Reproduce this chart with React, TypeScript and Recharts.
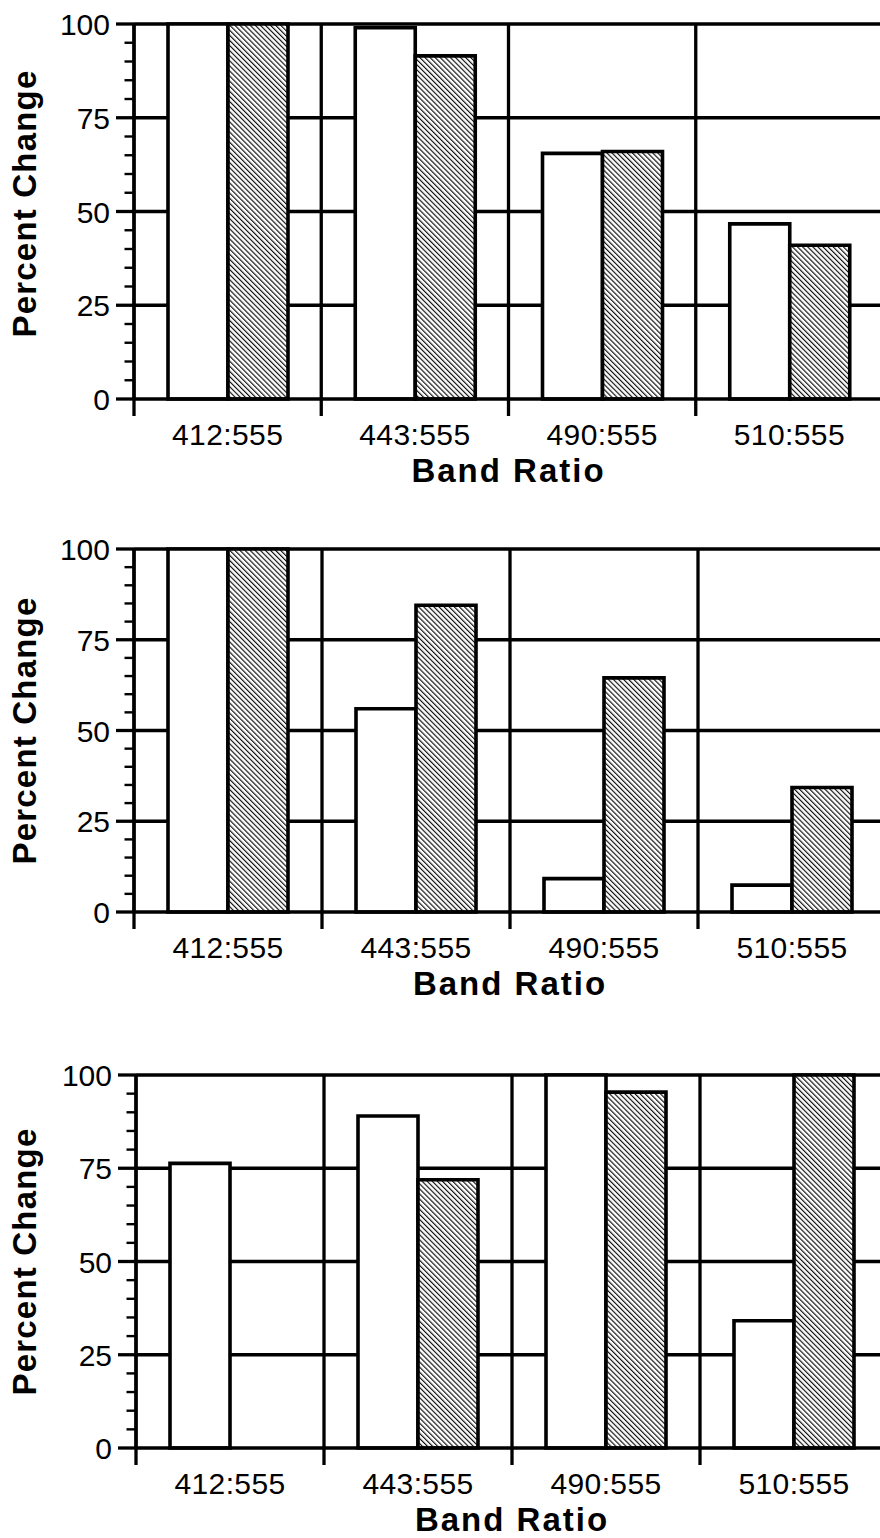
import React from 'react';
import { BarChart, Bar, XAxis, YAxis, CartesianGrid, Label } from 'recharts';

const categories = ['412:555', '443:555', '490:555', '510:555'];

const panel1Open = [100, 99, 65.5, 46.7];
const panel1Hatched = [100, 91.5, 66, 41];
const panel2Open = [100, 56, 9.2, 7.4];
const panel2Hatched = [100, 84.5, 64.5, 34.3];
const panel3Open = [76.3, 89, 100, 34.1];
const panel3Hatched = [0, 71.9, 95.4, 100];

const yTicks = [0, 5, 10, 15, 20, 25, 30, 35, 40, 45, 50, 55, 60, 65, 70, 75, 80, 85, 90, 95, 100];
const yGridTicks = [25, 50, 75, 100];

const FONT = '"Liberation Sans", Arial, Helvetica, sans-serif';

const XTick = (props: any) => {
  const { x, y, payload, index, visibleTicksCount } = props;
  const half = payload && payload.offset ? payload.offset : 0;
  return (
    <g>
      <line x1={x - half} x2={x - half} y1={y} y2={y + 17} stroke="#000" strokeWidth={3.3} />
      {index === visibleTicksCount - 1 && (
        <line x1={x + half} x2={x + half} y1={y} y2={y + 17} stroke="#000" strokeWidth={3.3} />
      )}
      <text x={x} y={y + 46} textAnchor="middle" fontSize={30} fontFamily={FONT} fill="#000" letterSpacing={0.4}>
        {payload.value}
      </text>
    </g>
  );
};

const YTick = (props: any) => {
  const { x, y, payload } = props;
  const v = payload.value;
  const major = v % 25 === 0;
  return (
    <g>
      <line x1={x - (major ? 18 : 9.5)} x2={x} y1={y} y2={y} stroke="#000" strokeWidth={major ? 3.3 : 2.4} />
      {major && (
        <text x={x - 24} y={y} dy={11} textAnchor="end" fontSize={30} fontFamily={FONT} fill="#000">
          {v}
        </text>
      )}
    </g>
  );
};

type PanelProps = {
  top: number;
  chartTop: number;
  axisWidth: number;
  rightMargin: number;
  xAxisHeight: number;
  open: number[];
  hatched: number[];
  yLabelShift: number;
};

const boundaryGenerator = (p: any) => {
  const o = p.offset;
  return categories.map((_, i) => o.left + (o.width * i) / categories.length).concat([o.left + o.width]);
};

const Panel = ({ top, chartTop, axisWidth, rightMargin, xAxisHeight, open, hatched, yLabelShift }: PanelProps) => {
  const data = categories.map((c, i) => ({ cat: c, open: open[i], hatched: hatched[i] }));
  return (
    <div style={{ position: 'absolute', left: 0, top }}>
      <BarChart
        width={890}
        height={500}
        data={data}
        margin={{ top: chartTop, right: rightMargin, bottom: 0, left: 0 }}
        barGap={0}
        barSize={60}
      >
        <CartesianGrid
          xAxisId="cat"
          yAxisId="val"
          horizontalValues={yGridTicks}
          verticalCoordinatesGenerator={boundaryGenerator}
          stroke="#000"
          strokeWidth={3.3}
          fill="none"
        />
        <XAxis
          xAxisId="cat"
          dataKey="cat"
          height={xAxisHeight}
          tickLine={false}
          tickSize={0}
          tickMargin={0}
          axisLine={{ stroke: '#000', strokeWidth: 3.6 }}
          tick={<XTick />}
          interval={0}
        >
          <Label
            content={(p: any) => {
              const vb = p.viewBox || {};
              return (
                <text
                  x={vb.x + vb.width / 2}
                  y={vb.y + 83}
                  textAnchor="middle"
                  fontSize={33}
                  fontWeight="bold"
                  fontFamily={FONT}
                  letterSpacing={2}
                  fill="#000"
                >
                  Band Ratio
                </text>
              );
            }}
          />
        </XAxis>
        <YAxis
          yAxisId="val"
          type="number"
          domain={[0, 100]}
          ticks={yTicks}
          interval={0}
          width={axisWidth}
          tickLine={false}
          tickSize={0}
          tickMargin={0}
          axisLine={{ stroke: '#000', strokeWidth: 3.3 }}
          tick={<YTick />}
        >
          <Label
            content={(p: any) => {
              const vb = p.viewBox || {};
              const cy = vb.y + vb.height / 2 + yLabelShift;
              return (
                <text
                  transform={`translate(36, ${cy}) rotate(-90)`}
                  textAnchor="middle"
                  fontSize={33}
                  fontWeight="bold"
                  fontFamily={FONT}
                  letterSpacing={1.2}
                  fill="#000"
                >
                  Percent Change
                </text>
              );
            }}
          />
        </YAxis>
        <Bar xAxisId="cat" yAxisId="val" dataKey="open" fill="#fff" stroke="#000" strokeWidth={3.6} isAnimationActive={false} />
        <Bar xAxisId="cat" yAxisId="val" dataKey="hatched" fill="url(#hatch)" stroke="#000" strokeWidth={3.6} isAnimationActive={false} />
      </BarChart>
    </div>
  );
};

export default function App() {
  return (
    <div style={{ position: 'absolute', left: 0, top: 0, width: 880, height: 1538, overflow: 'hidden', background: '#fff' }}>
      <svg width={0} height={0} style={{ position: 'absolute' }}>
        <defs>
          <pattern id="hatch" patternUnits="userSpaceOnUse" width={3.6} height={3.6} patternTransform="rotate(-45)">
            <rect x={0} y={0} width={3.6} height={3.6} fill="#fff" />
            <line x1={0.6} y1={0} x2={0.6} y2={3.6} stroke="#000" strokeWidth={1.1} />
          </pattern>
        </defs>
      </svg>
      <Panel top={0} chartTop={24} axisWidth={134} rightMargin={7} xAxisHeight={101} open={panel1Open} hatched={panel1Hatched} yLabelShift={-8} />
      <Panel top={520} chartTop={29} axisWidth={134} rightMargin={4} xAxisHeight={108} open={panel2Open} hatched={panel2Hatched} yLabelShift={0} />
      <Panel top={1040} chartTop={35} axisWidth={136} rightMargin={2} xAxisHeight={92} open={panel3Open} hatched={panel3Hatched} yLabelShift={0} />
    </div>
  );
}
